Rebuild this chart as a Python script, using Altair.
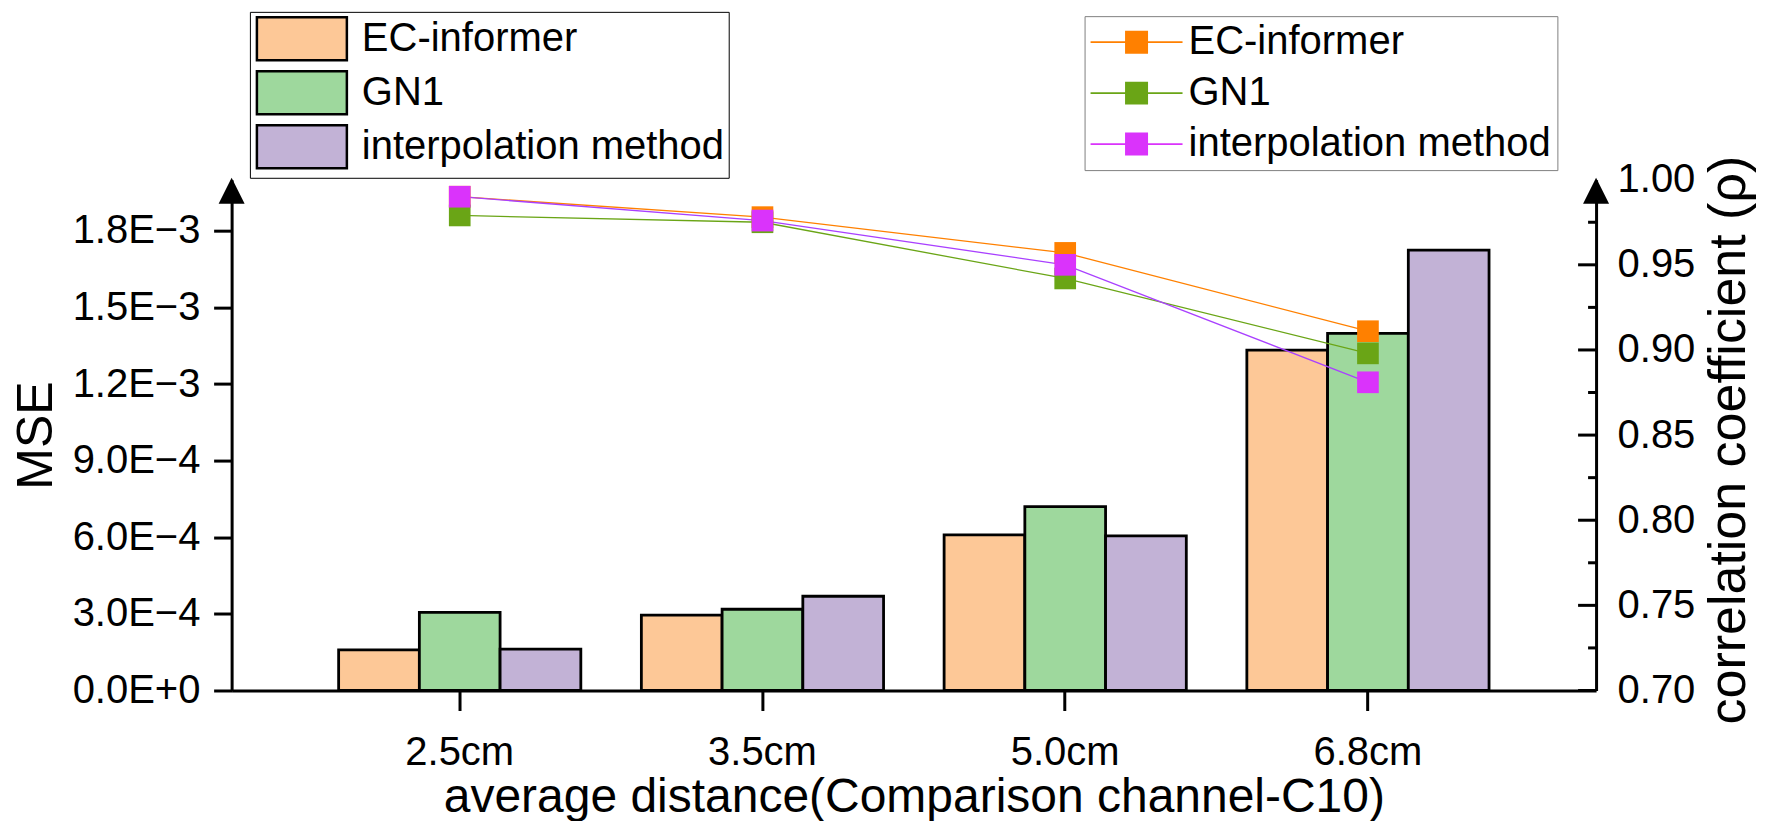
import altair as alt
import pandas as pd

# ---------------- data ----------------
cats = ["2.5cm", "3.5cm", "5.0cm", "6.8cm"]
series = ["EC-informer", "GN1", "interpolation method"]

mse_ec = [1.59e-4, 2.95e-4, 6.09e-4, 1.333e-3]
mse_gn1 = [3.06e-4, 3.18e-4, 7.20e-4, 1.398e-3]
mse_interp = [1.62e-4, 3.69e-4, 6.05e-4, 1.724e-3]

rho_ec = [0.990, 0.978, 0.957, 0.911]
rho_gn1 = [0.979, 0.975, 0.942, 0.898]
rho_interp = [0.990, 0.976, 0.950, 0.881]

mse_ticks = [0, 3e-4, 6e-4, 9e-4, 1.2e-3, 1.5e-3, 1.8e-3]
rho_ticks = [0.70, 0.75, 0.80, 0.85, 0.90, 0.95, 1.00]
rho_major_marks = [0.70, 0.75, 0.80, 0.85, 0.90, 0.95]
rho_minor = [0.725, 0.775, 0.825, 0.875, 0.925, 0.975]

bar_colors = ["#FDC897", "#9ED89D", "#C2B2D6"]
marker_colors = ["#FF8000", "#6AA516", "#DA33FB"]
line_colors = ["#FF8000", "#6AA516", "#A940FF"]

mse_vals = {"EC-informer": mse_ec, "GN1": mse_gn1, "interpolation method": mse_interp}
rho_vals = {"EC-informer": rho_ec, "GN1": rho_gn1, "interpolation method": rho_interp}

df_bar = pd.DataFrame(
    [{"dist": c, "method": s, "mse": mse_vals[s][i]} for s in series for i, c in enumerate(cats)]
)
df_line = pd.DataFrame(
    [{"dist": c, "method": s, "rho": rho_vals[s][i]} for s in series for i, c in enumerate(cats)]
)

# ---------------- layout ----------------
FONT = "Liberation Sans"
W, H = 1365, 511
ARROW = "M-1,1L1,1L0,-1Z"
# bar legend swatch: 90 x 43 drawn with a nominal symbol size of 43
RECT = "M-2.093,-1L2.093,-1L2.093,1L-2.093,1Z"
# line legend: 92 px line with a 23 px square, nominal symbol size 40
LINE_SQ = ("M-2.3,-0.04L2.3,-0.04L2.3,0.04L-2.3,0.04Z"
           "M-0.575,-0.575L0.575,-0.575L0.575,0.575L-0.575,0.575Z")

x_enc = alt.X(
    "dist:N", sort=cats, title="average distance(Comparison channel-C10)",
    scale=alt.Scale(paddingInner=0.2, paddingOuter=0.3535),
    axis=alt.Axis(
        labelAngle=0, labelFontSize=40, labelFont=FONT, labelColor="black", labelPadding=22,
        tickSize=20, tickWidth=3, tickColor="black", domainWidth=3, domainColor="black",
        titleFontSize=48, titleFont=FONT, titleFontWeight="normal", titleColor="black",
        titleY=121, titleBaseline="alphabetic", grid=False,
    ),
)

left_axis = alt.Axis(
    values=mse_ticks,
    labelExpr="replace(replace(format(datum.value, '.1e'), 'e-', 'E\u2212'), 'e+', 'E+')",
    labelFontSize=40, labelFont=FONT, labelColor="black", labelPadding=13.7,
    tickSize=18, tickWidth=3, tickColor="black", domainWidth=3, domainColor="black",
    titleFontSize=50, titleFont=FONT, titleFontWeight="normal", titleColor="black",
    titleX=-195, titleY=255.5, titleAngle=270, titleAlign="center", titleBaseline="middle",
    grid=False, orient="left",
)

right_axis = alt.Axis(
    values=rho_ticks, format=".2f",
    labelFontSize=40, labelFont=FONT, labelColor="black", labelPadding=21,
    ticks=False, tickSize=0, domainWidth=3, domainColor="black",
    titleFontSize=52, titleFont=FONT, titleFontWeight="normal", titleColor="black",
    titleX=132, titleY=260, titleAngle=270, titleAlign="center", titleBaseline="middle",
    grid=False, orient="right",
)

left_legend = alt.Legend(
    orient="none", legendX=18.3, legendY=-167.9, title=None,
    symbolType=RECT, symbolSize=1849, symbolStrokeColor="black", symbolStrokeWidth=2.5,
    symbolOffset=25, symbolOpacity=1,
    labelFontSize=40, labelFont=FONT, labelColor="black", labelOffset=37,
    labelLimit=1000, rowPadding=0, padding=4, strokeColor="black", fillColor="white",
)

right_legend = alt.Legend(
    orient="none", legendX=853.3, legendY=-163.6, title=None,
    symbolType=LINE_SQ, symbolSize=1600, symbolStrokeWidth=0, symbolOffset=26, symbolOpacity=1,
    labelFontSize=40, labelFont=FONT, labelColor="black", labelOffset=32,
    labelLimit=1000, rowPadding=11, padding=6, strokeColor="#808080", fillColor="white",
)

# ---------------- left (MSE bars) ----------------
bars = alt.Chart(df_bar).mark_bar(stroke="black", strokeWidth=2.8).encode(
    x=x_enc,
    xOffset=alt.XOffset("method:N", sort=series, scale=alt.Scale(paddingInner=0, paddingOuter=0)),
    y=alt.Y("mse:Q", title="MSE", scale=alt.Scale(domain=[0, 0.002], nice=False), axis=left_axis),
    fill=alt.Fill("method:N", sort=series, scale=alt.Scale(domain=series, range=bar_colors),
                  legend=left_legend),
)

arrow_df = pd.DataFrame({"a": [0]})
left_arrow = alt.Chart(arrow_df).mark_point(
    shape=ARROW, size=676, filled=True, fill="black", opacity=1, strokeWidth=0
).encode(x=alt.value(0), y=alt.value(11))

# ---------------- right (correlation) ----------------
RT = "correlation coefficient (\u03c1)"
y_rho = alt.Y("rho:Q", title=RT,
              scale=alt.Scale(domain=[0.70, 1.00], nice=False, zero=False), axis=right_axis)

lines = alt.Chart(df_line).mark_line(strokeWidth=1.3).encode(
    x=x_enc, y=y_rho,
    stroke=alt.Stroke("method:N", sort=series, scale=alt.Scale(domain=series, range=line_colors),
                      legend=None),
)

points = alt.Chart(df_line).mark_point(shape="square", filled=True, size=470, opacity=1,
                                       strokeWidth=0).encode(
    x=x_enc, y=y_rho,
    fill=alt.Fill("method:N", sort=series, scale=alt.Scale(domain=series, range=marker_colors),
                  legend=right_legend),
)

major = alt.Chart(pd.DataFrame({"rho": rho_major_marks})).mark_rule(
    color="black", strokeWidth=3).encode(y=y_rho, x=alt.value(W - 18), x2=alt.value(W))
minor = alt.Chart(pd.DataFrame({"rho": rho_minor})).mark_rule(
    color="black", strokeWidth=3).encode(y=y_rho, x=alt.value(W - 8), x2=alt.value(W))

right_arrow = alt.Chart(arrow_df).mark_point(
    shape=ARROW, size=676, filled=True, fill="black", opacity=1, strokeWidth=0
).encode(x=alt.value(W), y=alt.value(11))

left = alt.layer(bars, left_arrow)
right = alt.layer(lines, points, major, minor, right_arrow)

chart = (
    alt.layer(left, right)
    .resolve_scale(y="independent", fill="independent")
    .resolve_legend(fill="independent")
    .properties(
        width=W, height=H,
        padding={"left": 223.7, "top": 171.6, "right": 170, "bottom": 130},
        autosize=alt.AutoSizeParams(type="none"),
    )
    .configure(font=FONT)
    .configure_view(strokeWidth=0)
)

chart.save("out.html", embed_options={"renderer": "svg", "actions": False})
